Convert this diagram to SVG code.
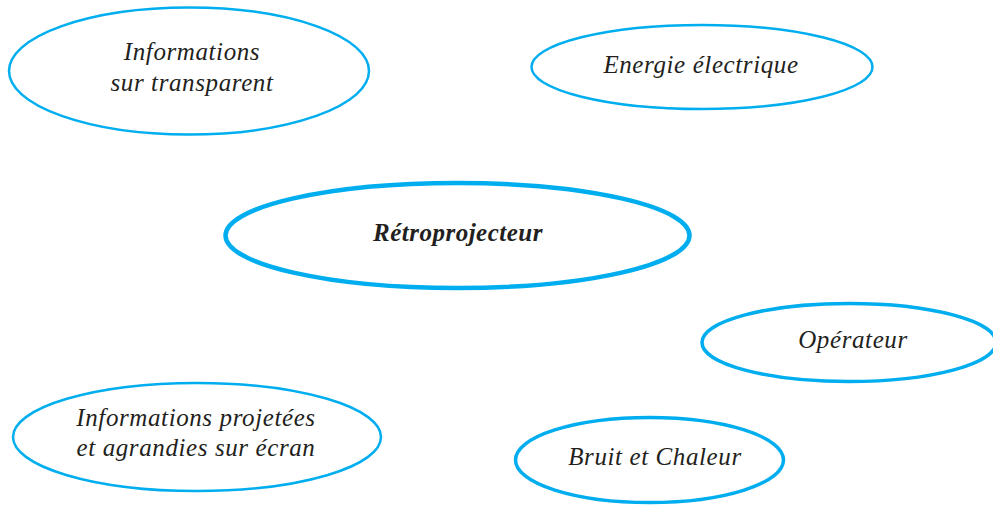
<svg xmlns="http://www.w3.org/2000/svg" width="993" height="505" viewBox="0 0 993 505">
<style>
.e{fill:#fff;stroke:#00AEEF}
.t{font-family:"Liberation Serif","Times New Roman",serif;font-style:italic;font-size:25px;letter-spacing:0.6px;fill:#231F20;text-anchor:middle}
.b{font-weight:bold;letter-spacing:0.5px}
</style>
<rect width="993" height="505" fill="#fff"/>
<g id="connectors"></g>
<g id="n1">
<ellipse class="e" cx="189" cy="71" rx="180" ry="63.5" stroke-width="2.5"/>
<text class="t" x="192" y="60">Informations</text>
<text class="t" x="192" y="91">sur transparent</text>
</g>
<g id="n2">
<ellipse class="e" cx="702" cy="67" rx="170.5" ry="42" stroke-width="2.5"/>
<text class="t" x="701" y="73">Energie électrique</text>
</g>
<g id="n3">
<ellipse class="e" cx="457.5" cy="235.5" rx="232" ry="52.5" stroke-width="4.5"/>
<text class="t b" x="458" y="241">Rétroprojecteur</text>
</g>
<g id="n4">
<ellipse class="e" cx="849" cy="342.5" rx="147" ry="39" stroke-width="3.5"/>
<text class="t" x="853" y="348">Opérateur</text>
</g>
<g id="n5">
<ellipse class="e" cx="197" cy="437" rx="184" ry="54" stroke-width="2.5"/>
<text class="t" x="196" y="426">Informations projetées</text>
<text class="t" x="196" y="456">et agrandies sur écran</text>
</g>
<g id="n6">
<ellipse class="e" cx="649.5" cy="460" rx="134" ry="42.5" stroke-width="3.5"/>
<text class="t" x="655" y="465">Bruit et Chaleur</text>
</g>
</svg>
